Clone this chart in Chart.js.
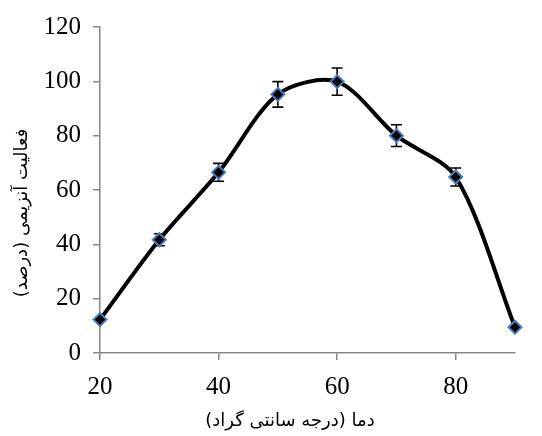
<!DOCTYPE html>
<html>
<head>
<meta charset="utf-8">
<script src="https://cdn.jsdelivr.net/npm/chart.js@4/dist/chart.umd.min.js"></script>
<style>
  html, body { margin: 0; padding: 0; background: #fff; }
  #wrap { width: 542px; height: 436px; }
</style>
</head>
<body>
<div id="wrap"><canvas id="chart" width="542" height="436"></canvas></div>
<script>
// Data
const temps = [20, 30, 40, 50, 60, 70, 80, 90];
const activity = [12.3, 41.7, 66.5, 95.2, 99.9, 80, 64.8, 9.5];
const errors = [0, 2.2, 3.3, 4.7, 5, 4, 3.3, 0];
const xTicks = [20, 40, 60, 80];
const yTicks = [0, 20, 40, 60, 80, 100, 120];
const xTitle = 'دما (درجه سانتی گراد)';
const yTitle = 'فعالیت آنزیمی (درصد)';

const axisGray = '#868686';

// Error bars drawn under the line and markers
const errorBars = {
  id: 'errorBars',
  beforeDatasetsDraw(chart) {
    const ctx = chart.ctx;
    const x = chart.scales.x, y = chart.scales.y;
    ctx.save();
    ctx.strokeStyle = '#000';
    ctx.lineWidth = 1.6;
    temps.forEach((t, i) => {
      const e = errors[i];
      if (!e) return;
      const px = x.getPixelForValue(t);
      const top = y.getPixelForValue(activity[i] + e);
      const bot = y.getPixelForValue(activity[i] - e);
      ctx.beginPath();
      ctx.moveTo(px, top); ctx.lineTo(px, bot);
      ctx.moveTo(px - 5.5, top); ctx.lineTo(px + 5.5, top);
      ctx.moveTo(px - 5.5, bot); ctx.lineTo(px + 5.5, bot);
      ctx.stroke();
    });
    ctx.restore();
  }
};

// Persian axis titles
const axisTitles = {
  id: 'axisTitles',
  afterDraw(chart) {
    const ctx = chart.ctx;
    const a = chart.chartArea;
    ctx.save();
    ctx.fillStyle = '#000';
    ctx.font = '18px "DejaVu Sans"';
    ctx.textAlign = 'center';
    ctx.textBaseline = 'middle';
    ctx.direction = 'rtl';
    ctx.fillText(xTitle, a.left + 190, 421);
    ctx.translate(22, a.top + 186);
    ctx.rotate(-Math.PI / 2);
    ctx.fillText(yTitle, 0, 0);
    ctx.restore();
  }
};

new Chart(document.getElementById('chart'), {
  type: 'line',
  data: {
    labels: temps,
    datasets: [{
      data: temps.map((t, i) => ({ x: t, y: activity[i] })),
      borderColor: '#000',
      borderWidth: 4,
      tension: 0.3,
      fill: false,
      clip: false,
      pointStyle: 'rectRot',
      pointRadius: 6.5,
      pointBackgroundColor: '#000',
      pointBorderColor: '#4a7ebb',
      pointBorderWidth: 2
    }]
  },
  options: {
    responsive: false,
    animation: false,
    layout: { padding: { top: 27, right: 27, left: 0, bottom: 0 } },
    plugins: {
      legend: { display: false },
      tooltip: { enabled: false }
    },
    scales: {
      x: {
        type: 'linear',
        min: 20,
        max: 90,
        afterBuildTicks: scale => { scale.ticks = xTicks.map(v => ({ value: v })); },
        afterFit: scale => { scale.height = 83; },
        grid: { display: true, drawOnChartArea: false, drawTicks: true, tickLength: 7, color: axisGray, lineWidth: 1.5 },
        border: { color: axisGray, width: 1.5 },
        ticks: {
          color: '#000',
          font: { family: 'Liberation Serif', size: 25 },
          padding: 12,
          maxRotation: 0
        }
      },
      y: {
        min: 0,
        max: 120,
        afterBuildTicks: scale => { scale.ticks = yTicks.map(v => ({ value: v })); },
        afterFit: scale => { scale.width = 100; },
        grid: { display: true, drawOnChartArea: false, drawTicks: true, tickLength: 7, color: axisGray, lineWidth: 1.5 },
        border: { color: axisGray, width: 1.5 },
        ticks: {
          color: '#000',
          font: { family: 'Liberation Serif', size: 25 },
          padding: 12
        }
      }
    }
  },
  plugins: [errorBars, axisTitles]
});
</script>
</body>
</html>
